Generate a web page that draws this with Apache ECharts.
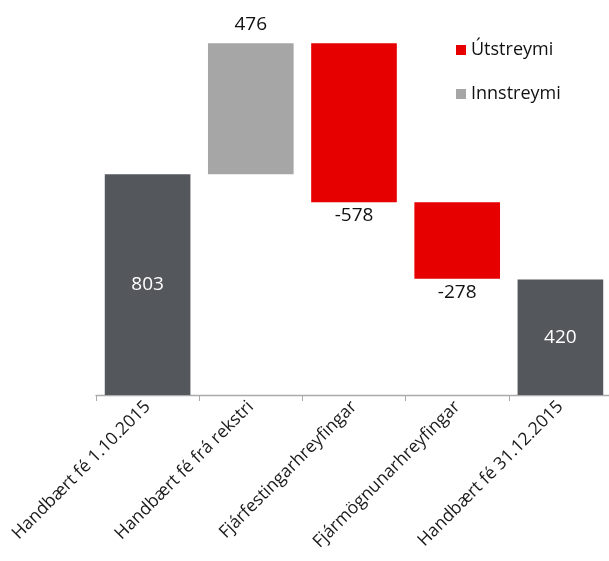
<!DOCTYPE html>
<html><head><meta charset="utf-8">
<script src="https://cdn.jsdelivr.net/npm/echarts@6/dist/echarts.min.js"></script>
<style>html,body{margin:0;padding:0;background:#fff}#c{width:609px;height:561px}</style>
</head><body><div id="c"></div>
<script>
const categories = ['Handbært fé 1.10.2015','Handbært fé frá rekstri','Fjárfestingarhreyfingar','Fjármögnunarhreyfingar','Handbært fé 31.12.2015'];
const values = [803, 476, -578, -278, 420];
const isTotal = [true, false, false, false, true];

const helper = [], totals = [], inflow = [], outflow = [];
let run = 0;
values.forEach((v, i) => {
  if (isTotal[i]) {
    helper.push(0); totals.push(v); inflow.push('-'); outflow.push('-');
    run = v;
  } else if (v >= 0) {
    helper.push(run); inflow.push(v); totals.push('-'); outflow.push('-');
    run += v;
  } else {
    run += v;
    helper.push(run); outflow.push(-v); totals.push('-'); inflow.push('-');
  }
});

const FONT = '"Open Sans", "Noto Sans", sans-serif';
const chart = echarts.init(document.getElementById('c'));
chart.setOption({
  animation: false,
  textStyle: { fontFamily: FONT },
  grid: { left: 96, width: 516, top: 10, height: 385, containLabel: false, outerBoundsMode: 'none' },
  legend: {
    data: ['Útstreymi', 'Innstreymi'],
    orient: 'vertical', left: 451, top: 36, itemWidth: 10, itemHeight: 10, itemGap: 26,
    icon: 'rect',
    textStyle: { fontFamily: FONT, fontSize: 18, color: '#111' }
  },
  xAxis: {
    type: 'category', data: categories,
    axisLine: { lineStyle: { color: '#aaaaaa', width: 1.3 } },
    axisTick: { show: true, length: 6, lineStyle: { color: '#aaaaaa' } },
    axisLabel: { rotate: 45, fontSize: 17.5, color: '#1a1a1a', fontFamily: FONT, margin: 9, interval: 0 }
  },
  yAxis: { type: 'value', min: 0, max: 1400, show: false, splitLine: { show: false } },
  series: [
    { name: 'helper', type: 'bar', stack: 'w', data: helper, itemStyle: { color: 'transparent' }, barWidth: '83%', silent: true },
    { name: 'Total', type: 'bar', stack: 'w', data: totals, itemStyle: { color: '#54575b' },
      label: { show: true, position: 'inside', color: '#fff', fontSize: 19, fontFamily: FONT } },
    { name: 'Innstreymi', type: 'bar', stack: 'w', data: inflow, itemStyle: { color: '#a6a6a6' },
      label: { show: true, position: 'top', color: '#111', fontSize: 19, fontFamily: FONT, distance: 9 } },
    { name: 'Útstreymi', type: 'bar', stack: 'w', data: outflow, itemStyle: { color: '#e60000' },
      label: { show: true, position: 'bottom', color: '#111', fontSize: 19, fontFamily: FONT, distance: 4,
        formatter: p => '-' + p.value } }
  ]
});
</script></body></html>
